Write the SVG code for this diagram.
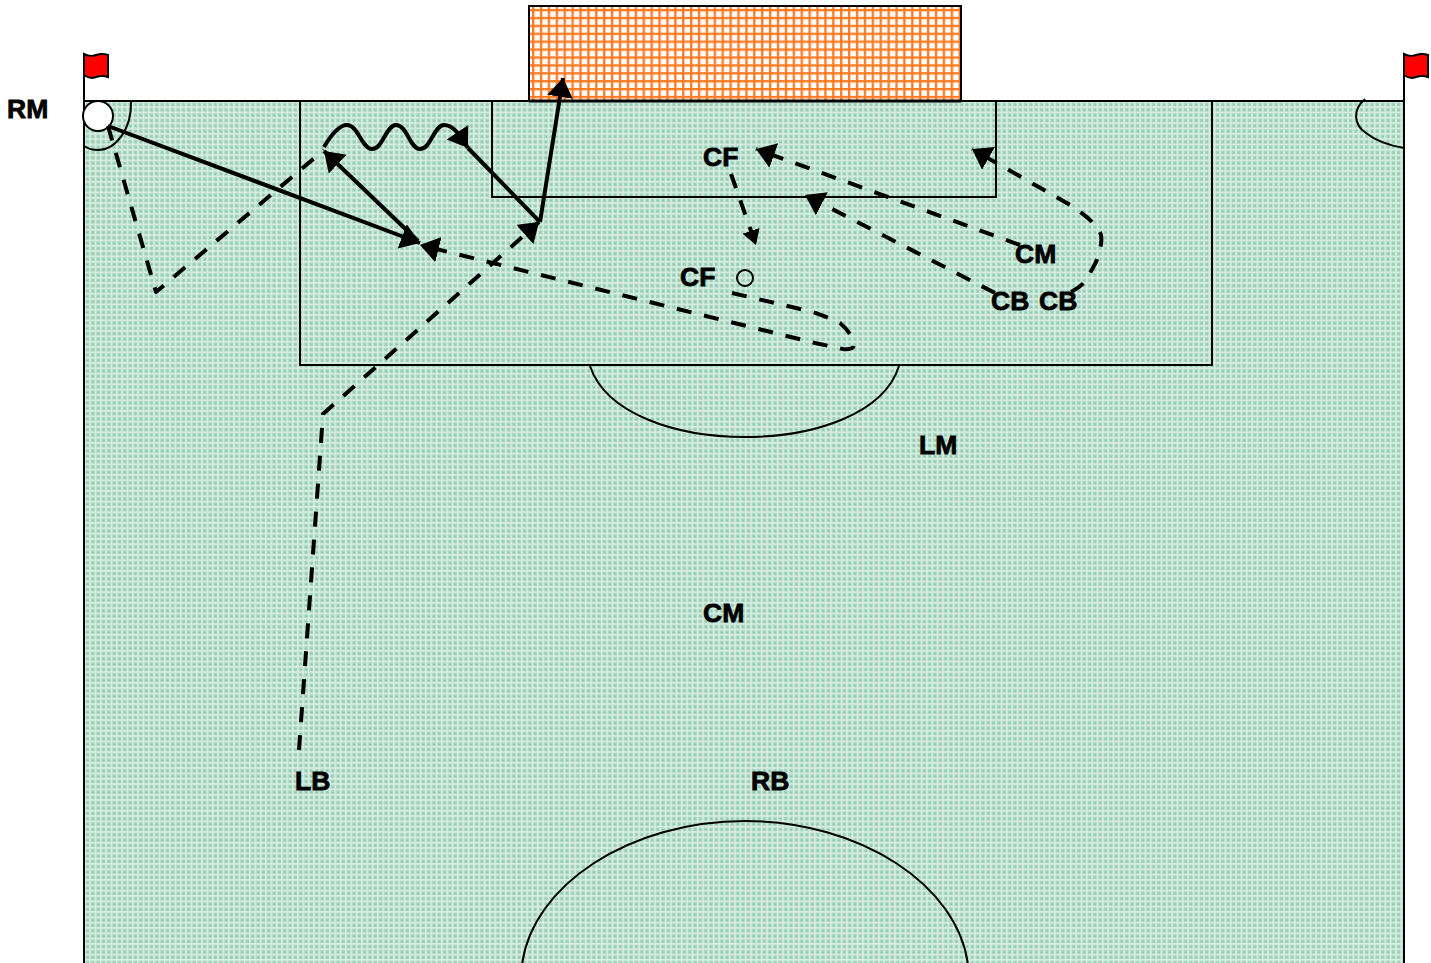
<svg xmlns="http://www.w3.org/2000/svg" width="1431" height="963" viewBox="0 0 1431 963">
<style>
.l{fill:none;stroke:#000;stroke-width:2}
.s{fill:none;stroke:#000;stroke-width:4;stroke-linejoin:round}
.d{fill:none;stroke:#000;stroke-width:4;stroke-dasharray:15 13;stroke-linejoin:round}
.t{font-family:"Liberation Sans","DejaVu Sans",sans-serif;font-weight:bold;font-size:26.5px;fill:#000;stroke:#000;stroke-width:.8}
.fl{fill:#f00;stroke:#000;stroke-width:2}
</style>
<defs>
<pattern id="grass" x="84" y="101" width="5.33" height="5.33" patternUnits="userSpaceOnUse">
<rect width="5.33" height="5.33" fill="#a8d8c1"/>
<rect x="0" y="0" width="5.33" height="1.5" fill="#d9eee4"/>
<rect x="0" y="0" width="1.5" height="5.33" fill="#d9eee4"/>
<rect x="3" y="3" width="1.4" height="1.4" fill="#8fbfa8"/>
</pattern>
<pattern id="net" x="529" y="6" width="7.9" height="7.9" patternUnits="userSpaceOnUse">
<rect width="7.9" height="7.9" fill="#fff"/>
<rect x="3" width="2.3" height="7.9" fill="#ff7a1f"/>
<rect y="3" width="7.9" height="2.3" fill="#ff7a1f"/>
</pattern>
<marker id="a" markerUnits="userSpaceOnUse" markerWidth="22" markerHeight="28" refX="19" refY="13" orient="auto">
<path d="M0 0 19 13 0 26Z" fill="#000"/>
</marker>
<marker id="b" markerUnits="userSpaceOnUse" markerWidth="17" markerHeight="20" refX="15" refY="9" orient="auto">
<path d="M0 0 15 9 0 18Z" fill="#000"/>
</marker>
</defs>
<g id="goal"><rect x="529" y="6" width="432" height="95" fill="url(#net)" stroke="#000" stroke-width="2"/></g>
<g id="pitch">
<rect x="84" y="101" width="1320" height="864" fill="url(#grass)"/>
<path class="l" d="M84 963V101H1404V963"/>
<path d="M529 101H961" stroke="#000" stroke-width="3" fill="none"/>
<rect class="l" x="300" y="101" width="912" height="264"/>
<rect class="l" x="492" y="101" width="504" height="96"/>
<path class="l" d="M590 366C606 414 676 437 745 437C814 437 884 414 899 366"/>
<path class="l" d="M522 965C532 885 630 821 745 821C860 821 958 885 968 965"/>
<path class="l" d="M131 101C132 130 115 150 98 150C92 150 87 148 84 146"/>
<path class="l" d="M1365 99C1352 110 1354 125 1366 133C1376 141 1392 146 1404 148"/>
</g>
<g id="flag-left"><path class="l" d="M84 101V54"/><path class="fl" d="M84 54C90 57 93 56 96 55S102 53 108 55V77C102 75 99 76 96 77S90 79 84 75Z"/></g>
<g id="flag-right"><path class="l" d="M1404 101V54"/><path class="fl" d="M1404 54C1410 57 1413 56 1416 55S1422 53 1428 55V77C1422 75 1419 76 1416 77S1410 79 1404 75Z"/></g>
<g id="ball-corner"><circle cx="98" cy="116" r="15" fill="#fff" stroke="#000" stroke-width="2"/></g>
<g id="ball-small"><circle cx="745" cy="278" r="8" fill="none" stroke="#000" stroke-width="2"/></g>
<g id="connectors">
<path class="s" d="M108 126 420 243" marker-end="url(#a)"/>
<path class="s" d="M540 222 468 148"/>
<path class="s" d="M418 241 324 151" marker-end="url(#a)"/>
<path class="s" d="M540 222 563 78" marker-end="url(#a)"/>
<path class="s" d="M324 147Q337 125 347 125C358 125 362 149 372 149C383 149 386 125 396 125C407 125 410 149 420 149C431 149 434 125 444 125C454 125 460 136 468 148" marker-end="url(#a)"/>
<path class="d" d="M108 126 156 292 324 150"/>
<path class="d" d="M299 750 323 414 539 222" marker-end="url(#a)"/>
<path class="d" d="M732 293 813 312Q830 318 840 323Q852 333 854 345Q854 350 843 349L815 343 420 245" marker-end="url(#a)"/>
<path class="d" d="M731 174 756 245" marker-end="url(#b)"/>
<path class="d" d="M1020 245 756 149" marker-end="url(#a)"/>
<path class="d" d="M995 293 805 195" marker-end="url(#a)"/>
<path class="d" d="M1071 292Q1085 285 1089 275L1096 262C1101 250 1102 240 1101 235C1098 225 1085 215 1072 206L972 149" marker-end="url(#a)"/>
</g>
<g id="label-rm"><text class="t" x="7" y="118">RM</text></g>
<g id="label-cf1"><text class="t" x="703" y="166">CF</text></g>
<g id="label-cf2"><text class="t" x="680" y="286">CF</text></g>
<g id="label-cm1"><text class="t" x="1015" y="263">CM</text></g>
<g id="label-cb1"><text class="t" x="991" y="310">CB</text></g>
<g id="label-cb2"><text class="t" x="1039" y="310">CB</text></g>
<g id="label-lm"><text class="t" x="919" y="454">LM</text></g>
<g id="label-cm2"><text class="t" x="703" y="622">CM</text></g>
<g id="label-lb"><text class="t" x="295" y="790">LB</text></g>
<g id="label-rb"><text class="t" x="751" y="790">RB</text></g>
</svg>
